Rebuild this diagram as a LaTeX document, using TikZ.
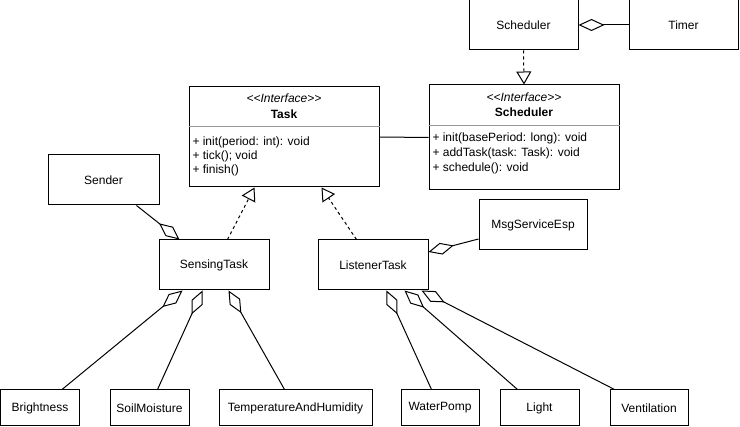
\documentclass[tikz,border=0pt]{standalone}
\usepackage{fontspec}
\setmainfont{Liberation Sans}
\usetikzlibrary{arrows.meta}
\begin{document}
\begin{tikzpicture}[x=1pt,y=-1pt,
  line width=1pt,
  box/.style={draw, rectangle, inner sep=0pt, font=\fontsize{12}{14}\selectfont},
  txt/.style={inner sep=0pt, font=\fontsize{12}{14}\selectfont},
  meth/.style={txt, anchor=west},
  agg/.style={{Diamond[open,length=26pt,width=12pt]}-},
  real/.style={dashed, dash pattern=on 3pt off 3pt, -{Triangle[open,length=13pt,width=15pt]}}
]
\useasboundingbox (0,0) rectangle (740,427);

% top row
\node[box, minimum width=109pt, minimum height=50pt] (sched) at (523.5,25) {Scheduler};
\node[box, minimum width=109pt, minimum height=50pt] (timer) at (683.5,25) {Timer};

% interface Task
\node[box, minimum width=190pt, minimum height=100pt] (task) at (284,137) {};
\node[txt] (taskst) at (284,98) {\itshape <{}<Interface>{}>};
\node[txt] (taskname) at (284,114) {\bfseries Task};
\draw[line width=0.6pt, black!40] ([yshift=-40pt]task.north west) coordinate (tsepA) -- ([yshift=-40pt]task.north east) coordinate (tsepB);
\node[meth] (tm1) at (192,142) {+ init(period: int): void};
\node[meth] (tm2) at (192,156) {+ tick(); void};
\node[meth] (tm3) at (192,170) {+ finish()};

% interface Scheduler
\node[box, minimum width=190pt, minimum height=105pt] (isched) at (524,137.5) {};
\node[txt] (isst) at (524,97) {\itshape <{}<Interface>{}>};
\node[txt] (isname) at (524,112) {\bfseries Scheduler};
\draw[line width=0.6pt, black!40] ([yshift=-41pt]isched.north west) coordinate (ssepA) -- ([yshift=-41pt]isched.north east) coordinate (ssepB);
\node[meth] (sm1) at (432,138) {+ init(basePeriod: long): void};
\node[meth] (sm2) at (432,153) {+ addTask(task: Task): void};
\node[meth] (sm3) at (432,168) {+ schedule(): void};

% middle
\node[box, minimum width=111pt, minimum height=50pt] (sender) at (103.5,180) {Sender};
\node[box, minimum width=110pt, minimum height=50pt] (sensing) at (214,265) {SensingTask};
\node[box, minimum width=110pt, minimum height=50pt] (listener) at (373,265) {ListenerTask};
\node[box, minimum width=108pt, minimum height=50pt] (msg) at (533,225) {MsgServiceEsp};

% bottom
\node[box, minimum width=79pt, minimum height=36pt] (bright) at (40,408) {Brightness};
\node[box, minimum width=79pt, minimum height=36pt] (soil) at (149.5,408) {SoilMoisture};
\node[box, minimum width=153pt, minimum height=36pt] (temp) at (295.5,408) {TemperatureAndHumidity};
\node[box, minimum width=78pt, minimum height=36pt] (water) at (440,408) {WaterPomp};
\node[box, minimum width=79pt, minimum height=36pt] (light) at (539.5,408) {Light};
\node[box, minimum width=78pt, minimum height=36pt] (vent) at (649,408) {Ventilation};

% connectors
\draw[agg] (sched.east) -- (timer.west);
\draw[real] (sched.south) -- (isched.north);
\draw (task.east) -- (isched.west);

\draw[agg] ([xshift=21pt]sensing.north west) -- ([xshift=89pt]sender.south west);
\draw[real] ([xshift=69pt]sensing.north west) -- ([xshift=66pt]task.south west);
\draw[real] ([xshift=39pt]listener.north west) -- ([xshift=133pt]task.south west);
\draw[agg] ([yshift=13pt]listener.east) -- ([yshift=-14pt]msg.west);

\draw[agg] ([xshift=24pt]sensing.south west) -- ([xshift=62pt]bright.north west);
\draw[agg] ([xshift=44pt]sensing.south west) -- ([xshift=48pt]soil.north west);
\draw[agg] ([xshift=70pt]sensing.south west) -- ([xshift=66pt]temp.north west);

\draw[agg] ([xshift=69pt]listener.south west) -- ([xshift=31pt]water.north west);
\draw[agg] ([xshift=87pt]listener.south west) -- ([xshift=18pt]light.north west);
\draw[agg] ([xshift=104pt]listener.south west) -- ([xshift=5pt]vent.north west);
\end{tikzpicture}
\end{document}
